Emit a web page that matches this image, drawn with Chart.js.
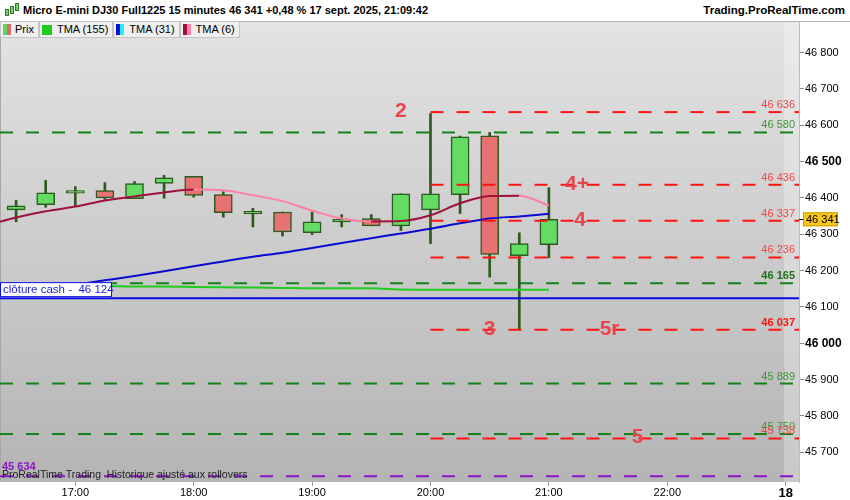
<!DOCTYPE html>
<html>
<head>
<meta charset="utf-8">
<script src="https://cdn.jsdelivr.net/npm/chart.js@4.4.1/dist/chart.umd.min.js"></script>
<style>
body { margin: 0; width: 850px; height: 500px; overflow: hidden; background: #fff; font-family: Arial, "Liberation Sans", sans-serif; position: relative; }
#chart { position: absolute; left: 0; top: 0; }
#top { position: absolute; left: 0; top: 0; width: 850px; height: 21px; background: #fff; border-bottom: 1px solid #b4b4b4; }
#ttl { position: absolute; left: 23px; top: 4px; font-weight: bold; font-size: 11px; color: #000; white-space: nowrap; }
#site { position: absolute; right: 5px; top: 4px; font-weight: bold; font-size: 11.5px; color: #000; }
.ic { position: absolute; width: 2px; background: #6cd46c; border: 1px solid #3a7a2a; }
#legend { position: absolute; left: 0; top: 21px; height: 17px; display: flex; }
.lg { height: 15px; border: 1px solid #c4c4c4; background: #efefef; font-size: 11px; line-height: 15px; padding: 0 4px 0 2px; margin-right: 0; display: flex; align-items: center; white-space: nowrap; }
.sw { display: inline-block; width: 4px; height: 11px; }
</style>
</head>
<body>
<canvas id="chart" width="850" height="500"></canvas>
<div id="top">
  <div class="ic" style="left:5px;top:9px;height:5px"></div>
  <div class="ic" style="left:10px;top:6px;height:6px"></div>
  <div class="ic" style="left:15px;top:3px;height:6px"></div>
  <span id="ttl">Micro E-mini DJ30 Full1225 15 minutes 46 341 +0,48 % 17 sept. 2025, 21:09:42</span>
  <span id="site">Trading.ProRealTime.com</span>
</div>
<div id="legend">
  <div class="lg"><span class="sw" style="background:#5fd45f"></span><span class="sw" style="background:#e06a6a;margin-right:4px"></span>Prix</div>
  <div class="lg"><span class="sw" style="background:#1ecc1e;width:10px;height:10px;margin-right:5px"></span>TMA (155)</div>
  <div class="lg"><span class="sw" style="background:#0a0ad0"></span><span class="sw" style="background:#22eeff;margin-right:5px"></span>TMA (31)</div>
  <div class="lg"><span class="sw" style="background:#a0103c"></span><span class="sw" style="background:#ff7fa5;margin-right:5px"></span>TMA (6)</div>
</div>
<script>
// 15 min bars, 17 sept. 2025
var bars = ['16:30','16:45','17:00','17:15','17:30','17:45','18:00','18:15','18:30','18:45',
            '19:00','19:15','19:30','19:45','20:00','20:15','20:30','20:45','21:00'];
var opens  = [46367,46381,46413,46420,46398,46440,46459,46409,46356,46361,46304,46334,46343,46323,46367,46409,46571,46241,46271];
var highs  = [46393,46448,46431,46442,46445,46462,46459,46417,46371,46361,46361,46354,46354,46411,46632,46570,46580,46304,46428];
var lows   = [46334,46374,46377,46396,46398,46399,46402,46347,46320,46295,46299,46320,46323,46310,46274,46357,46182,46036,46235];
var closes = [46378,46414,46420,46400,46439,46455,46407,46359,46363,46306,46334,46341,46323,46411,46411,46568,46244,46274,46341];

// TMA (6) starts one bar earlier (16:15)
var tma6   = [46324,46346,46363,46376,46393,46404,46415,46423,46421,46407,46391,46365,46343,46335,46336,46352,46385,46405,46406,46379];
var tma31  = [46136,46148,46161,46173,46185,46198,46212,46225,46238,46249,46262,46276,46289,46302,46315,46330,46343,46349,46356];
var tma155 = [46158,46158,46157,46157,46156,46156,46155,46154,46153,46152,46151,46151,46151,46148,46147,46147,46147,46147,46147];

var tickBars = [2, 6, 10, 14, 18, 22, 26];
var tickLabels = ['17:00','18:00','19:00','20:00','21:00','22:00','18'];
var yTicks = [45700,45800,45900,46000,46100,46200,46300,46400,46500,46600,46700,46800];

var greenLevels = [46580, 46165, 45889, 45750];
var redLevels = [46636, 46436, 46337, 46236, 46037, 45738];
var boldLevels = [46165, 46037];
var redStartBar = 14;
var signalTexts = ['2', '4+', '4', '3', '5r', '5'];
var signalBars = [13, 18.95, 19.05, 16, 20.05, 21];
var signalLevels = [46636, 46436, 46337, 46037, 46037, 45738];
var purpleLevel = 45634;
var cashLevel = 46124;
var lastPrice = 46341;

var X_MIN = -0.544, X_MAX = 26.45, LINE_END = 26.25;
var FONT = 'Arial, "Liberation Sans", sans-serif';

function fmt(v) {
  return String(Math.round(v)).replace(/\B(?=(\d{3})+(?!\d))/g, ' ');
}

var datasets = [];

function level(v, color, from, to, dash) {
  datasets.push({
    type: 'line',
    data: [{ x: from, y: v }, { x: to, y: v }],
    borderColor: color,
    borderWidth: 2,
    borderDash: dash,
    borderCapStyle: 'butt',
    pointRadius: 0,
    order: 1
  });
}
greenLevels.forEach(function (v) { level(v, '#14821a', X_MIN, LINE_END, [13, 13]); });
redLevels.forEach(function (v) { level(v, '#ff1414', redStartBar, X_MAX, [13, 13]); });
level(purpleLevel, '#8a14c8', X_MIN, LINE_END, [13, 13]);
level(cashLevel, '#0a0ae6', X_MIN, X_MAX, []);

datasets.push({
  type: 'line',
  data: tma6.map(function (v, i) { return { x: i - 1, y: v }; }),
  borderColor: '#a0103c',
  borderWidth: 2,
  pointRadius: 0,
  cubicInterpolationMode: 'monotone',
  segment: {
    borderColor: function (c) { return c.p1.parsed.y < c.p0.parsed.y ? '#ff7fa5' : '#a0103c'; }
  },
  order: 2
});
datasets.push({
  type: 'line',
  data: tma31.map(function (v, i) { return { x: i, y: v }; }),
  borderColor: '#0a0ad0',
  borderWidth: 2,
  pointRadius: 0,
  cubicInterpolationMode: 'monotone',
  order: 3
});
datasets.push({
  type: 'line',
  data: tma155.map(function (v, i) { return { x: i, y: v }; }),
  borderColor: '#1ecc1e',
  borderWidth: 2,
  pointRadius: 0,
  cubicInterpolationMode: 'monotone',
  order: 4
});
datasets.push({
  type: 'bar',
  data: bars.map(function (b, i) { return { x: i, y: [Math.min(opens[i], closes[i]), Math.max(opens[i], closes[i])] }; }),
  backgroundColor: bars.map(function (b, i) { return closes[i] >= opens[i] ? '#64dc64' : '#e67272'; }),
  borderColor: '#2d5a1e',
  borderWidth: 1.5,
  borderSkipped: false,
  barThickness: 18,
  grouped: false,
  order: 5
});
datasets.push({
  type: 'bar',
  data: bars.map(function (b, i) { return { x: i, y: [lows[i], highs[i]] }; }),
  backgroundColor: '#2d5a1e',
  borderWidth: 0,
  barThickness: 2,
  grouped: false,
  order: 6
});

var overlays = {
  id: 'overlays',
  beforeDraw: function (chart) {
    var ctx = chart.ctx, a = chart.chartArea, xs = chart.scales.x;
    var g = ctx.createLinearGradient(0, a.top, 0, a.bottom);
    g.addColorStop(0, '#e3e3e3');
    g.addColorStop(1, '#b4b4b4');
    ctx.save();
    ctx.fillStyle = g;
    ctx.fillRect(a.left, a.top, a.right - a.left, a.bottom - a.top);
    var sx = xs.getPixelForValue(26) - 1.5;
    ctx.fillStyle = 'rgba(255,255,255,0.28)';
    ctx.fillRect(sx, a.top, a.right - sx, a.bottom - a.top);
    ctx.fillStyle = '#a8a8a8';
    ctx.fillRect(a.left, a.top, 1, a.bottom - a.top);
    ctx.restore();
  },
  afterDatasetsDraw: function (chart) {
    var ctx = chart.ctx, a = chart.chartArea, xs = chart.scales.x, ys = chart.scales.y;
    ctx.save();
    ctx.textBaseline = 'middle';
    ctx.textAlign = 'right';
    greenLevels.forEach(function (v) {
      var b = boldLevels.indexOf(v) >= 0;
      ctx.font = (b ? 'bold ' : '') + '11px ' + FONT;
      ctx.fillStyle = b ? '#1c6e1c' : '#3a963a';
      ctx.fillText(fmt(v), a.right - 4, ys.getPixelForValue(v) - 7);
    });
    redLevels.forEach(function (v) {
      var b = boldLevels.indexOf(v) >= 0;
      ctx.font = (b ? 'bold ' : '') + '11px ' + FONT;
      ctx.fillStyle = b ? '#ff1010' : '#f04848';
      ctx.fillText(fmt(v), a.right - 4, ys.getPixelForValue(v) - 7);
    });

    // signal numbers
    ctx.textAlign = 'center';
    ctx.font = 'bold 21px ' + FONT;
    ctx.fillStyle = '#e8454d';
    signalTexts.forEach(function (t, i) {
      ctx.fillText(t, xs.getPixelForValue(signalBars[i]), ys.getPixelForValue(signalLevels[i]) - 1);
    });

    // purple level + watermark
    ctx.textAlign = 'left';
    var py = ys.getPixelForValue(purpleLevel);
    ctx.font = 'bold 11px ' + FONT;
    ctx.fillStyle = '#8a14c8';
    ctx.fillText(fmt(purpleLevel), a.left + 2, py - 9);
    ctx.font = '10.5px ' + FONT;
    ctx.fillStyle = '#222';
    ctx.fillText('ProRealTime Trading  Historique ajusté aux rollovers', a.left + 2, py - 1);

    // cash close box
    var cy = ys.getPixelForValue(cashLevel);
    ctx.fillStyle = '#fff';
    ctx.fillRect(a.left, cy - 16, 112, 15);
    ctx.strokeStyle = '#0a0ae6';
    ctx.lineWidth = 1;
    ctx.strokeRect(a.left + 0.5, cy - 15.5, 111, 14);
    ctx.font = '11.5px ' + FONT;
    ctx.fillStyle = '#1a1ae6';
    ctx.fillText('clôture cash -  ' + fmt(cashLevel), a.left + 3, cy - 8);
    ctx.restore();
  },
  afterDraw: function (chart) {
    var ctx = chart.ctx, a = chart.chartArea, ys = chart.scales.y;
    var y = ys.getPixelForValue(lastPrice);
    ctx.save();
    ctx.strokeStyle = '#000';
    ctx.lineWidth = 1;
    ctx.beginPath();
    ctx.moveTo(a.right, Math.round(y) + 0.5);
    ctx.lineTo(a.right + 4, Math.round(y) + 0.5);
    ctx.stroke();
    ctx.fillStyle = '#f8c61c';
    ctx.fillRect(a.right + 4, y - 7, 35, 14);
    ctx.strokeStyle = '#caa000';
    ctx.strokeRect(a.right + 4.5, y - 6.5, 34, 13);
    ctx.fillStyle = '#000';
    ctx.font = '11px ' + FONT;
    ctx.textBaseline = 'middle';
    ctx.fillText(fmt(lastPrice), a.right + 7, y + 0.5);
    ctx.restore();
  }
};

new Chart(document.getElementById('chart'), {
  type: 'bar',
  data: { datasets: datasets },
  options: {
    responsive: false,
    devicePixelRatio: 1,
    animation: false,
    layout: { padding: { top: 22, left: 0, right: 0, bottom: 0 } },
    plugins: { legend: { display: false }, tooltip: { enabled: false } },
    scales: {
      x: {
        type: 'linear',
        min: X_MIN,
        max: X_MAX,
        offset: false,
        grid: { offset: false, drawOnChartArea: false, tickLength: 4, color: '#999' },
        border: { display: false },
        afterBuildTicks: function (s) { s.ticks = tickBars.map(function (v) { return { value: v }; }); },
        afterFit: function (s) { s.height = 18; },
        ticks: {
          autoSkip: false,
          maxRotation: 0,
          padding: 0,
          color: '#000',
          font: function (c) {
            var big = c.tick && c.tick.value === 26;
            return { family: FONT, size: big ? 13 : 11, weight: big ? 'bold' : 'normal' };
          },
          callback: function (v) { return tickLabels[tickBars.indexOf(v)]; }
        }
      },
      y: {
        type: 'linear',
        position: 'right',
        min: 45618,
        max: 46884,
        grid: { drawOnChartArea: false, tickLength: 5, color: '#888' },
        border: { display: true, color: '#bdbdbd' },
        afterBuildTicks: function (s) { s.ticks = yTicks.map(function (v) { return { value: v }; }); },
        afterFit: function (s) { s.width = 51; },
        ticks: {
          padding: 1,
          color: '#000',
          font: function (c) {
            var major = c.tick && c.tick.value % 500 === 0;
            return { family: FONT, size: major ? 12 : 11, weight: major ? 'bold' : 'normal' };
          },
          callback: function (v) { return fmt(v); }
        }
      }
    }
  },
  plugins: [overlays]
});
</script>
</body>
</html>
